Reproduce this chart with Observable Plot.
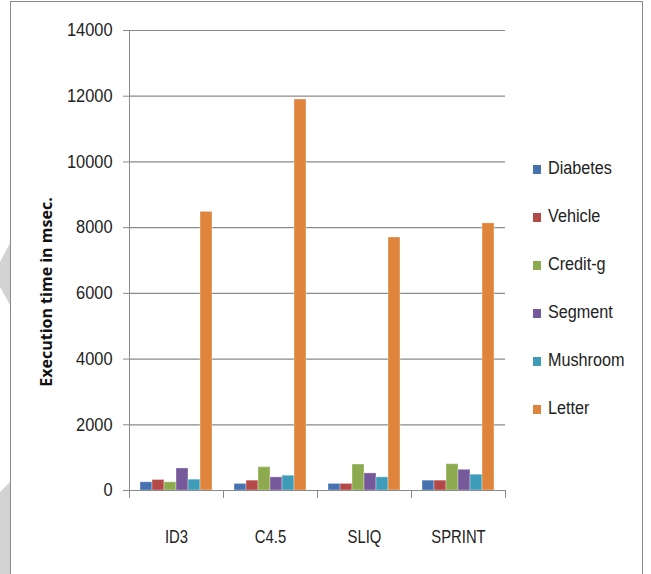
<!DOCTYPE html>
<html>
<head>
<meta charset="utf-8">
<script src="https://cdn.jsdelivr.net/npm/d3@7"></script>
<script src="https://cdn.jsdelivr.net/npm/@observablehq/plot@0.6"></script>
<style>
  html, body { margin: 0; padding: 0; background: #fff; }
  #wrap { position: relative; width: 651px; height: 574px; overflow: hidden; background: #fff; }
  #frame { position: absolute; left: 10px; top: 1px; width: 633px; height: 590px; border: 1px solid #8a8a8a; box-sizing: border-box; }
  #deco { position: absolute; left: 0; top: 0; }
  #chart { position: absolute; left: 0; top: 0; }
  #ytitle { position: absolute; left: -154px; top: 282px; width: 400px; height: 20px; line-height: 20px; text-align: center;
            transform: rotate(-90deg); white-space: nowrap;
            font-family: "Open Sans", "DejaVu Sans", sans-serif; font-weight: bold; font-size: 16px; color: #111; }
  #legend { position: absolute; left: 533px; top: 158px; font-family: "Liberation Sans", Arial, sans-serif; font-size: 18px; color: #222; }
  .item { height: 48px; display: flex; align-items: flex-start; }
  .sw { width: 8px; height: 9px; margin-right: 7px; margin-top: 7px; flex: none; }
  .lab { display: inline-block; transform: scaleX(0.9); transform-origin: left center; white-space: nowrap; }
</style>
</head>
<body>
<div id="wrap">
  <svg id="deco" width="651" height="574">
    <polygon points="0,262 10,243 10,305 0,287" fill="#d3d3d3"/>
    <polygon points="0,492 10,482 10,574 0,574" fill="#d3d3d3"/>
  </svg>
  <div id="frame"></div>
  <div id="chart"></div>
  <div id="ytitle">Execution time in msec.</div>
  <div id="legend"></div>
</div>
<script>
const categories = ["ID3", "C4.5", "SLIQ", "SPRINT"];
const series = ["Diabetes", "Vehicle", "Credit-g", "Segment", "Mushroom", "Letter"];
const colors = ["#4672B0", "#B44A47", "#8DAA4E", "#76599A", "#3F9CB8", "#DF843D"];
const diabetes = [250, 200, 200, 300];
const vehicle = [320, 300, 200, 300];
const creditG = [250, 710, 790, 800];
const segment = [670, 400, 520, 630];
const mushroom = [330, 450, 400, 480];
const letter = [8480, 11900, 7700, 8130];
const yTicks = [0, 2000, 4000, 6000, 8000, 10000, 12000, 14000];

const seriesValues = [diabetes, vehicle, creditG, segment, mushroom, letter];
const rows = [];
categories.forEach((c, i) => {
  series.forEach((s, j) => rows.push({algo: c, series: s, value: seriesValues[j][i]}));
});

const grey = "#8a8a8a";
const chart = Plot.plot({
  width: 520,
  height: 560,
  marginLeft: 128,
  marginRight: 14,
  marginTop: 30,
  marginBottom: 70,
  style: {fontFamily: "'Liberation Sans', Arial, sans-serif", fontSize: "18px", color: "#222", background: "transparent"},
  fx: {domain: categories, padding: 0, label: null},
  x: {domain: series, paddingInner: 0, paddingOuter: 0.72, axis: null},
  y: {domain: [0, 14000], label: null},
  color: {domain: series, range: colors},
  marks: [
    Plot.ruleY(yTicks.slice(1), {stroke: grey, strokeWidth: 1.2}),
    Plot.barY(rows, {fx: "algo", x: "series", y: "value", fill: "series", stroke: "#ffffff", strokeOpacity: 0.35, strokeWidth: 1}),
    Plot.ruleY([0], {stroke: grey, strokeWidth: 1.2}),
    Plot.frame({anchor: "left", insetTop: 460, insetBottom: -7, stroke: grey}),
    Plot.frame({anchor: "right", insetTop: 460, insetBottom: -7, stroke: grey}),
    Plot.frame({anchor: "left", facetAnchor: "left", insetBottom: -7, stroke: grey}),
    Plot.axisY({ticks: yTicks, tickSize: 6, tickPadding: 11, tickFormat: d => String(d), stroke: grey, fontSize: 18, label: null}),
    Plot.axisFx({anchor: "bottom", tickSize: 0, tickPadding: 39, fontSize: 19, label: null})
  ]
});
document.getElementById("chart").appendChild(chart);

// narrow the glyphs to mimic the condensed face of the original
function condense(selector, f) {
  chart.querySelectorAll(selector).forEach(t => {
    const w = t.getComputedTextLength();
    if (w > 0) {
      t.setAttribute("textLength", (w * f).toFixed(2));
      t.setAttribute("lengthAdjust", "spacingAndGlyphs");
    }
  });
}
condense('g[aria-label="y-axis tick label"] text', 0.91);
condense('g[aria-label="fx-axis tick label"] text', 0.78);

const legend = document.getElementById("legend");
series.forEach((s, j) => {
  const item = document.createElement("div");
  item.className = "item";
  const sw = document.createElement("div");
  sw.className = "sw";
  sw.style.background = colors[j];
  const t = document.createElement("span");
  t.className = "lab";
  t.textContent = s;
  item.appendChild(sw);
  item.appendChild(t);
  legend.appendChild(item);
});
</script>
</body>
</html>
